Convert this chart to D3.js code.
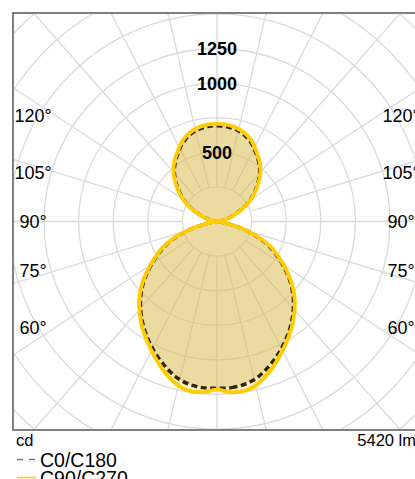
<!DOCTYPE html>
<html>
  <head>
    <meta charset="utf-8">
    <style type="text/css">
      body { margin: 0; background: #fff; font-family: "Liberation Sans", Arial, sans-serif; }
      svg { display: block; }
    </style>
    <title>Polar light distribution</title>
  </head>
  <body>
    <script src="https://cdn.jsdelivr.net/npm/d3@7"></script>
    <script>

/*========== Data ==========*/
// gamma angle from nadir (deg), one value per 5 deg
const gammas = [0, 5, 10, 15, 20, 25, 30, 35, 40, 45, 50, 55, 60, 65, 70, 75, 80, 85, 90,
  95, 100, 105, 110, 115, 120, 125, 130, 135, 140, 145, 150, 155, 160, 165, 170, 175, 180];
// luminous intensity cd, C0/C180 plane
const c0_c180 = [1205, 1205, 1192, 1160, 1108, 1052, 990, 926, 855, 780, 695, 600, 505, 410, 295, 165, 55, 10, 0,
  8, 33, 72, 117, 180, 248, 308, 367, 426, 480, 525, 565, 608, 642, 667, 682, 690, 692];
// luminous intensity cd, C90/C270 plane
const c90_c270 = [1215, 1240, 1238, 1200, 1140, 1072, 1005, 940, 868, 795, 708, 612, 515, 422, 305, 172, 58, 12, 0,
  8, 35, 75, 120, 185, 255, 315, 375, 435, 490, 535, 575, 620, 655, 680, 696, 704, 706];

const ringStep = 250;
const ringCount = 9;
const ringLabels = [500, 1000, 1250];
const angleLabels = [60, 75, 90, 105, 120];
const seriesNames = ['C0/C180', 'C90/C270'];
const flux = '5420 lm';
const unit = 'cd';

/*========== Zones definitions ==========*/
const W = 415, H = 479;
const box = {left: 13, top: 13, width: 408, height: 417};
const cx = box.left + box.width / 2;
const cy = 221.5;
const labelOffset = 184;
const spokeSquash = 0.88;

var svg = d3.select("body").append("svg")
    .attr("width", W)
    .attr("height", H);

svg.append("clipPath").attr("id", "plotclip")
  .append("rect")
    .attr("x", box.left).attr("y", box.top)
    .attr("width", box.width).attr("height", box.height);

var plot = svg.append("g").attr("clip-path", "url(#plotclip)");
var g = plot.append("g").attr("transform", `translate(${cx},${cy})`);

// radius scale, cd -> px
var r = d3.scaleLinear().domain([0, ringStep]).range([0, 34.6]);

/*========== Grid ==========*/
const rings = d3.range(1, ringCount + 1).map(i => i * ringStep);
g.selectAll(".ring")
  .data(rings)
  .enter()
  .append("circle")
    .attr("class", "ring")
    .attr("r", d => r(d))
    .attr("fill", "none")
    .attr("stroke", "#dadada")
    .attr("stroke-width", 1.3);

// spokes every 15 deg, starting at first ring
const spokes = d3.range(0, 360, 15);
const r1 = r(ringStep);
g.selectAll(".spoke")
  .data(spokes)
  .enter()
  .append("line")
    .attr("class", "spoke")
    .each(function(d) {
      const a = d * Math.PI / 180;
      let dx = spokeSquash * Math.sin(a), dy = Math.cos(a);
      const n = Math.hypot(dx, dy);
      dx /= n; dy /= n;
      d3.select(this)
        .attr("x1", dx * r1).attr("y1", dy * r1)
        .attr("x2", dx * 600).attr("y2", dy * 600);
    })
    .attr("stroke", "#dadada")
    .attr("stroke-width", 1.3);

/*========== Curves ==========*/
// right half goes gamma 0..180, left half back 180..0
function polarPoints(values) {
  const pts = [];
  gammas.forEach((gm, i) => pts.push([Math.PI - gm * Math.PI / 180, r(values[i])]));
  for (let i = gammas.length - 2; i > 0; i--) {
    pts.push([Math.PI + gammas[i] * Math.PI / 180, r(values[i])]);
  }
  return pts;
}

var radial = d3.lineRadial()
    .angle(d => d[0])
    .radius(d => d[1])
    .curve(d3.curveCatmullRomClosed.alpha(0.5));

// fills
g.append("path")
    .attr("d", radial(polarPoints(c90_c270)))
    .attr("fill", "rgba(255,204,0,0.22)")
    .attr("stroke", "none");
g.append("path")
    .attr("d", radial(polarPoints(c0_c180)))
    .attr("fill", "rgba(206,180,100,0.38)")
    .attr("stroke", "none");

// C0 dashed, then C90 yellow on top
g.append("path")
    .attr("d", radial(polarPoints(c0_c180)))
    .attr("fill", "none")
    .attr("stroke", "#33250a")
    .attr("stroke-width", 3.5)
    .attr("stroke-dasharray", "6,3.5");
g.append("path")
    .attr("d", radial(polarPoints(c90_c270)))
    .attr("fill", "none")
    .attr("stroke", "#ffcc00")
    .attr("stroke-width", 3.8)
    .attr("stroke-linejoin", "round");

/*========== Labels ==========*/
g.selectAll(".rlabel")
  .data(ringLabels)
  .enter()
  .append("text")
    .attr("class", "rlabel")
    .attr("x", 0)
    .attr("y", d => -r(d))
    .attr("dy", "0.36em")
    .attr("text-anchor", "middle")
    .attr("font-weight", "bold")
    .attr("font-size", 18)
    .attr("fill", "#000")
  .text(d => d);

// angle labels on both sides
[-1, 1].forEach(side => {
  g.selectAll(".alabel" + side)
    .data(angleLabels)
    .enter()
    .append("text")
      .attr("x", side * labelOffset)
      .attr("y", d => labelOffset * Math.cos(d * Math.PI / 180) / Math.sin(d * Math.PI / 180))
      .attr("dy", "0.36em")
      .attr("text-anchor", "middle")
      .attr("font-size", 18)
      .attr("fill", "#000")
    .text(d => d + "°");
});

// frame
svg.append("rect")
    .attr("x", box.left).attr("y", box.top)
    .attr("width", box.width).attr("height", box.height)
    .attr("fill", "none")
    .attr("stroke", "#808080")
    .attr("stroke-width", 2);

// footer
svg.append("text")
    .attr("x", 16).attr("y", 446)
    .attr("font-size", 16.5)
  .text(unit);
svg.append("text")
    .attr("x", 416).attr("y", 446)
    .attr("text-anchor", "end")
    .attr("font-size", 16.5)
  .text(flux);

/*========== Legend ==========*/
var legend = svg.append("g").attr("transform", "translate(17,0)");
const legendY = [459.5, 477.5];
legend.append("line")
    .attr("x1", 0).attr("x2", 19)
    .attr("y1", legendY[0]).attr("y2", legendY[0])
    .attr("stroke", "#7a7a7a")
    .attr("stroke-width", 1.6)
    .attr("stroke-dasharray", "6,6");
legend.append("line")
    .attr("x1", 0).attr("x2", 19)
    .attr("y1", legendY[1]).attr("y2", legendY[1])
    .attr("stroke", "#ffcc00")
    .attr("stroke-width", 1.6);
legend.selectAll(".ltext")
  .data(seriesNames)
  .enter()
  .append("text")
    .attr("x", 23)
    .attr("y", (d, i) => legendY[i] + 7)
    .attr("font-size", 19.5)
    .attr("fill", "#000")
  .text(d => d);

    </script>
  </body>
</html>
